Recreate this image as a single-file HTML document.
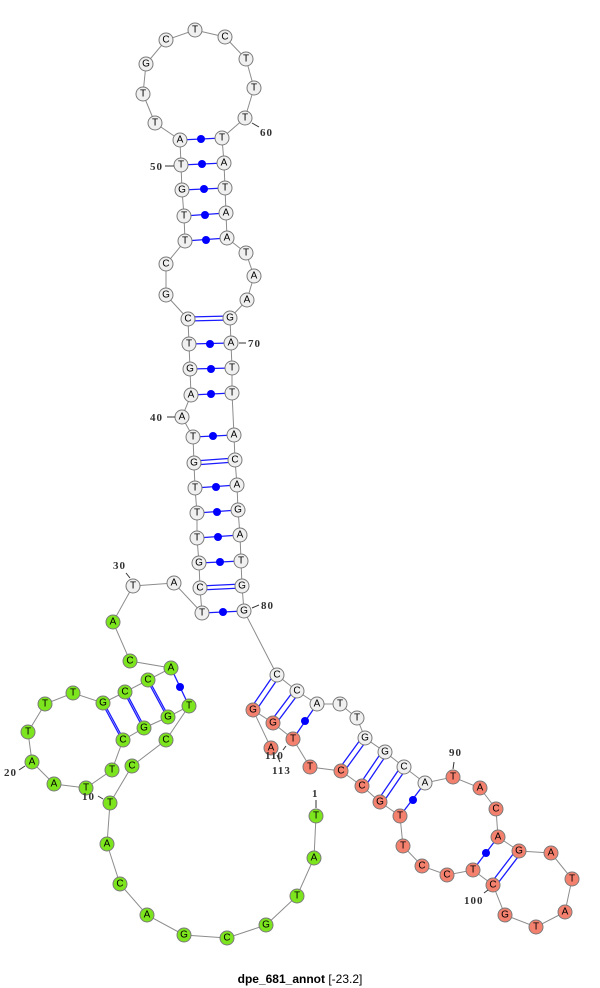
<!DOCTYPE html>
<html><head><meta charset="utf-8"><style>
html,body{margin:0;padding:0;background:#fff;width:600px;height:988px;overflow:hidden}
svg{display:block}
.bb{stroke:#8c8c8c;stroke-width:1;fill:none}
.pr{stroke:#1a1aff;stroke-width:1.3;fill:none}
.n circle{stroke:#7a7a7a;stroke-width:1}
.w circle{fill:#f0f0f0}
.g circle{fill:#7ce51d}
.s circle{fill:#f4806e}
.n text{font-family:"Liberation Sans",sans-serif;font-size:10px;text-anchor:middle;dominant-baseline:central;fill:#000}
.lb{font-family:"Liberation Serif",serif;font-size:11px;font-weight:bold;fill:#333;letter-spacing:1px}
.tk{stroke:#333;stroke-width:1}
</style></head><body>
<svg width="600" height="988" viewBox="0 0 600 988" xmlns="http://www.w3.org/2000/svg">
<!-- backbone -->
<polyline class="bb" points="316,816 314,858 297,896 266,925 227,938 184,935 147,915 120,884 107,844 110,803 132,766 166,740 189,706 168,717 144,728 123,740 112,770 86,788 54,784 32,762 28,732 45,704 73,693 103,703 125,692 148,680 171,668 130,661 113,622 133,586 174,583 202,613 200,588 199,563 197,538 197,513 195,488 194,463 193,437 182,417 191,395 190,369 189,344 188,319 166,295 166,264 185,241 184,216 182,190 181,165 180,140 155,123 143,94 146,64 166,40 195,30 225,37 246,59 254,88 245,118 222,138 224,163 225,188 226,213 227,238 246,253 254,276 247,300 230,318 231,343 232,368 232,393 234,435 235,460 237,485 238,510 240,535 241,561 242,586 244,611 277,675 297,691 317,704 340,704 357,718 365,738 385,752 404,767 425,783 453,777 480,788 496,809 498,837 519,851 551,853 572,879 565,912 536,927 505,915 493,885 473,870 447,875 422,866 403,846 400,816 380,802 362,786 341,771 310,767 293,739 273,723 253,710 271,748"/>
<!-- pairs -->
<g id="pairs">
<!-- dot pairs -->
<line class="pr" x1="171" y1="668" x2="189" y2="706"/><circle cx="180" cy="687" r="4" fill="#0000ff"/>
<line class="pr" x1="202" y1="613" x2="244" y2="611"/><circle cx="223" cy="612" r="4" fill="#0000ff"/>
<line class="pr" x1="199" y1="563" x2="241" y2="561"/><circle cx="220" cy="562" r="4" fill="#0000ff"/>
<line class="pr" x1="197" y1="538" x2="240" y2="535"/><circle cx="218" cy="537" r="4" fill="#0000ff"/>
<line class="pr" x1="197" y1="513" x2="238" y2="510"/><circle cx="217" cy="512" r="4" fill="#0000ff"/>
<line class="pr" x1="195" y1="488" x2="237" y2="485"/><circle cx="216" cy="487" r="4" fill="#0000ff"/>
<line class="pr" x1="193" y1="437" x2="234" y2="435"/><circle cx="213" cy="436" r="4" fill="#0000ff"/>
<line class="pr" x1="191" y1="395" x2="232" y2="393"/><circle cx="211" cy="394" r="4" fill="#0000ff"/>
<line class="pr" x1="190" y1="369" x2="232" y2="368"/><circle cx="211" cy="369" r="4" fill="#0000ff"/>
<line class="pr" x1="189" y1="344" x2="231" y2="343"/><circle cx="210" cy="344" r="4" fill="#0000ff"/>
<line class="pr" x1="185" y1="241" x2="227" y2="238"/><circle cx="206" cy="240" r="4" fill="#0000ff"/>
<line class="pr" x1="184" y1="216" x2="226" y2="213"/><circle cx="205" cy="215" r="4" fill="#0000ff"/>
<line class="pr" x1="182" y1="190" x2="225" y2="188"/><circle cx="204" cy="189" r="4" fill="#0000ff"/>
<line class="pr" x1="181" y1="165" x2="224" y2="163"/><circle cx="202" cy="164" r="4" fill="#0000ff"/>
<line class="pr" x1="180" y1="140" x2="222" y2="138"/><circle cx="201" cy="139" r="4" fill="#0000ff"/>
<line class="pr" x1="317" y1="704" x2="293" y2="739"/><circle cx="305" cy="721" r="4" fill="#0000ff"/>
<line class="pr" x1="425" y1="783" x2="400" y2="816"/><circle cx="413" cy="800" r="4" fill="#0000ff"/>
<line class="pr" x1="498" y1="837" x2="473" y2="870"/><circle cx="486" cy="853" r="4" fill="#0000ff"/>
<!-- double pairs -->
<g class="pr">
<line x1="101" y1="701" x2="121" y2="738"/><line x1="105" y1="705" x2="125" y2="742"/>
<line x1="123" y1="690" x2="142" y2="726"/><line x1="127" y1="694" x2="146" y2="730"/>
<line x1="146" y1="678" x2="166" y2="715"/><line x1="150" y1="682" x2="170" y2="719"/>
<line x1="200" y1="586" x2="242" y2="584"/><line x1="200" y1="590" x2="242" y2="588"/>
<line x1="194" y1="461" x2="235" y2="458"/><line x1="194" y1="465" x2="235" y2="462"/>
<line x1="188" y1="317" x2="230" y2="316"/><line x1="188" y1="321" x2="230" y2="320"/>
<line x1="275" y1="673" x2="251" y2="708"/><line x1="279" y1="677" x2="255" y2="712"/>
<line x1="295" y1="689" x2="271" y2="721"/><line x1="299" y1="693" x2="275" y2="725"/>
<line x1="363" y1="736" x2="339" y2="769"/><line x1="367" y1="740" x2="343" y2="773"/>
<line x1="383" y1="750" x2="360" y2="784"/><line x1="387" y1="754" x2="364" y2="788"/>
<line x1="402" y1="765" x2="378" y2="800"/><line x1="406" y1="769" x2="382" y2="804"/>
<line x1="517" y1="849" x2="491" y2="883"/><line x1="521" y1="853" x2="495" y2="887"/>
</g>
</g>
<!-- nodes -->
<g class="n g">
<g transform="translate(316,816)"><circle r="7"/><text>T</text></g>
<g transform="translate(314,858)"><circle r="7"/><text>A</text></g>
<g transform="translate(297,896)"><circle r="7"/><text>T</text></g>
<g transform="translate(266,925)"><circle r="7"/><text>G</text></g>
<g transform="translate(227,938)"><circle r="7"/><text>C</text></g>
<g transform="translate(184,935)"><circle r="7"/><text>G</text></g>
<g transform="translate(147,915)"><circle r="7"/><text>A</text></g>
<g transform="translate(120,884)"><circle r="7"/><text>C</text></g>
<g transform="translate(107,844)"><circle r="7"/><text>A</text></g>
<g transform="translate(110,803)"><circle r="7"/><text>T</text></g>
<g transform="translate(132,766)"><circle r="7"/><text>C</text></g>
<g transform="translate(166,740)"><circle r="7"/><text>C</text></g>
<g transform="translate(189,706)"><circle r="7"/><text>T</text></g>
<g transform="translate(168,717)"><circle r="7"/><text>G</text></g>
<g transform="translate(144,728)"><circle r="7"/><text>G</text></g>
<g transform="translate(123,740)"><circle r="7"/><text>C</text></g>
<g transform="translate(112,770)"><circle r="7"/><text>T</text></g>
<g transform="translate(86,788)"><circle r="7"/><text>T</text></g>
<g transform="translate(54,784)"><circle r="7"/><text>A</text></g>
<g transform="translate(32,762)"><circle r="7"/><text>A</text></g>
<g transform="translate(28,732)"><circle r="7"/><text>T</text></g>
<g transform="translate(45,704)"><circle r="7"/><text>T</text></g>
<g transform="translate(73,693)"><circle r="7"/><text>T</text></g>
<g transform="translate(103,703)"><circle r="7"/><text>G</text></g>
<g transform="translate(125,692)"><circle r="7"/><text>C</text></g>
<g transform="translate(148,680)"><circle r="7"/><text>C</text></g>
<g transform="translate(171,668)"><circle r="7"/><text>A</text></g>
<g transform="translate(130,661)"><circle r="7"/><text>C</text></g>
<g transform="translate(113,622)"><circle r="7"/><text>A</text></g>
</g>
<g class="n w">
<g transform="translate(133,586)"><circle r="7"/><text>T</text></g>
<g transform="translate(174,583)"><circle r="7"/><text>A</text></g>
<g transform="translate(202,613)"><circle r="7"/><text>T</text></g>
<g transform="translate(200,588)"><circle r="7"/><text>C</text></g>
<g transform="translate(199,563)"><circle r="7"/><text>G</text></g>
<g transform="translate(197,538)"><circle r="7"/><text>T</text></g>
<g transform="translate(197,513)"><circle r="7"/><text>T</text></g>
<g transform="translate(195,488)"><circle r="7"/><text>T</text></g>
<g transform="translate(194,463)"><circle r="7"/><text>G</text></g>
<g transform="translate(193,437)"><circle r="7"/><text>T</text></g>
<g transform="translate(182,417)"><circle r="7"/><text>A</text></g>
<g transform="translate(191,395)"><circle r="7"/><text>A</text></g>
<g transform="translate(190,369)"><circle r="7"/><text>G</text></g>
<g transform="translate(189,344)"><circle r="7"/><text>T</text></g>
<g transform="translate(188,319)"><circle r="7"/><text>C</text></g>
<g transform="translate(166,295)"><circle r="7"/><text>G</text></g>
<g transform="translate(166,264)"><circle r="7"/><text>C</text></g>
<g transform="translate(185,241)"><circle r="7"/><text>T</text></g>
<g transform="translate(184,216)"><circle r="7"/><text>T</text></g>
<g transform="translate(182,190)"><circle r="7"/><text>G</text></g>
<g transform="translate(181,165)"><circle r="7"/><text>T</text></g>
<g transform="translate(180,140)"><circle r="7"/><text>A</text></g>
<g transform="translate(155,123)"><circle r="7"/><text>T</text></g>
<g transform="translate(143,94)"><circle r="7"/><text>T</text></g>
<g transform="translate(146,64)"><circle r="7"/><text>G</text></g>
<g transform="translate(166,40)"><circle r="7"/><text>C</text></g>
<g transform="translate(195,30)"><circle r="7"/><text>T</text></g>
<g transform="translate(225,37)"><circle r="7"/><text>C</text></g>
<g transform="translate(246,59)"><circle r="7"/><text>T</text></g>
<g transform="translate(254,88)"><circle r="7"/><text>T</text></g>
<g transform="translate(245,118)"><circle r="7"/><text>T</text></g>
<g transform="translate(222,138)"><circle r="7"/><text>T</text></g>
<g transform="translate(224,163)"><circle r="7"/><text>A</text></g>
<g transform="translate(225,188)"><circle r="7"/><text>T</text></g>
<g transform="translate(226,213)"><circle r="7"/><text>A</text></g>
<g transform="translate(227,238)"><circle r="7"/><text>A</text></g>
<g transform="translate(246,253)"><circle r="7"/><text>T</text></g>
<g transform="translate(254,276)"><circle r="7"/><text>A</text></g>
<g transform="translate(247,300)"><circle r="7"/><text>A</text></g>
<g transform="translate(230,318)"><circle r="7"/><text>G</text></g>
<g transform="translate(231,343)"><circle r="7"/><text>A</text></g>
<g transform="translate(232,368)"><circle r="7"/><text>T</text></g>
<g transform="translate(232,393)"><circle r="7"/><text>T</text></g>
<g transform="translate(234,435)"><circle r="7"/><text>A</text></g>
<g transform="translate(235,460)"><circle r="7"/><text>C</text></g>
<g transform="translate(237,485)"><circle r="7"/><text>A</text></g>
<g transform="translate(238,510)"><circle r="7"/><text>G</text></g>
<g transform="translate(240,535)"><circle r="7"/><text>A</text></g>
<g transform="translate(241,561)"><circle r="7"/><text>T</text></g>
<g transform="translate(242,586)"><circle r="7"/><text>G</text></g>
<g transform="translate(244,611)"><circle r="7"/><text>G</text></g>
<g transform="translate(277,675)"><circle r="7"/><text>C</text></g>
<g transform="translate(297,691)"><circle r="7"/><text>C</text></g>
<g transform="translate(317,704)"><circle r="7"/><text>A</text></g>
<g transform="translate(340,704)"><circle r="7"/><text>T</text></g>
<g transform="translate(357,718)"><circle r="7"/><text>T</text></g>
<g transform="translate(365,738)"><circle r="7"/><text>G</text></g>
<g transform="translate(385,752)"><circle r="7"/><text>G</text></g>
<g transform="translate(404,767)"><circle r="7"/><text>C</text></g>
<g transform="translate(425,783)"><circle r="7"/><text>A</text></g>
</g>
<g class="n s">
<g transform="translate(453,777)"><circle r="7"/><text>T</text></g>
<g transform="translate(480,788)"><circle r="7"/><text>A</text></g>
<g transform="translate(496,809)"><circle r="7"/><text>C</text></g>
<g transform="translate(498,837)"><circle r="7"/><text>A</text></g>
<g transform="translate(519,851)"><circle r="7"/><text>G</text></g>
<g transform="translate(551,853)"><circle r="7"/><text>A</text></g>
<g transform="translate(572,879)"><circle r="7"/><text>T</text></g>
<g transform="translate(565,912)"><circle r="7"/><text>A</text></g>
<g transform="translate(536,927)"><circle r="7"/><text>T</text></g>
<g transform="translate(505,915)"><circle r="7"/><text>G</text></g>
<g transform="translate(493,885)"><circle r="7"/><text>C</text></g>
<g transform="translate(473,870)"><circle r="7"/><text>T</text></g>
<g transform="translate(447,875)"><circle r="7"/><text>C</text></g>
<g transform="translate(422,866)"><circle r="7"/><text>C</text></g>
<g transform="translate(403,846)"><circle r="7"/><text>T</text></g>
<g transform="translate(400,816)"><circle r="7"/><text>T</text></g>
<g transform="translate(380,802)"><circle r="7"/><text>G</text></g>
<g transform="translate(362,786)"><circle r="7"/><text>C</text></g>
<g transform="translate(341,771)"><circle r="7"/><text>C</text></g>
<g transform="translate(310,767)"><circle r="7"/><text>T</text></g>
<g transform="translate(293,739)"><circle r="7"/><text>T</text></g>
<g transform="translate(273,723)"><circle r="7"/><text>G</text></g>
<g transform="translate(253,710)"><circle r="7"/><text>G</text></g>
<g transform="translate(271,748)"><circle r="7"/><text>A</text></g>
</g>
<!-- labels -->
<line class="tk" x1="316" y1="800" x2="316" y2="808"/><text class="lb" x="312" y="797">1</text>
<line class="tk" x1="98" y1="796" x2="103" y2="799"/><text class="lb" x="82" y="800">10</text>
<line class="tk" x1="19" y1="770" x2="25" y2="766"/><text class="lb" x="4" y="776">20</text>
<line class="tk" x1="126" y1="573" x2="130" y2="578"/><text class="lb" x="113" y="569">30</text>
<line class="tk" x1="167" y1="417" x2="175" y2="417"/><text class="lb" x="150" y="421">40</text>
<line class="tk" x1="165" y1="166" x2="174" y2="166"/><text class="lb" x="150" y="170">50</text>
<line class="tk" x1="252" y1="123" x2="259" y2="127"/><text class="lb" x="260" y="136">60</text>
<line class="tk" x1="239" y1="343" x2="246" y2="343"/><text class="lb" x="248" y="347">70</text>
<line class="tk" x1="252" y1="608" x2="259" y2="605"/><text class="lb" x="261" y="609">80</text>
<line class="tk" x1="454" y1="762" x2="453" y2="769"/><text class="lb" x="449" y="756">90</text>
<line class="tk" x1="484" y1="893" x2="488" y2="890"/><text class="lb" x="464" y="904">100</text>
<line class="tk" x1="283" y1="750" x2="286" y2="746"/><text class="lb" x="265" y="759">110</text>
<line class="tk" x1="277" y1="755" x2="280" y2="762"/><text class="lb" x="272" y="774">113</text>
<!-- title -->
<text x="300" y="983" text-anchor="middle" font-family="'Liberation Sans',sans-serif" font-size="12" fill="#000"><tspan font-weight="bold">dpe_681_annot</tspan> [-23.2]</text>
</svg>
</body></html>
